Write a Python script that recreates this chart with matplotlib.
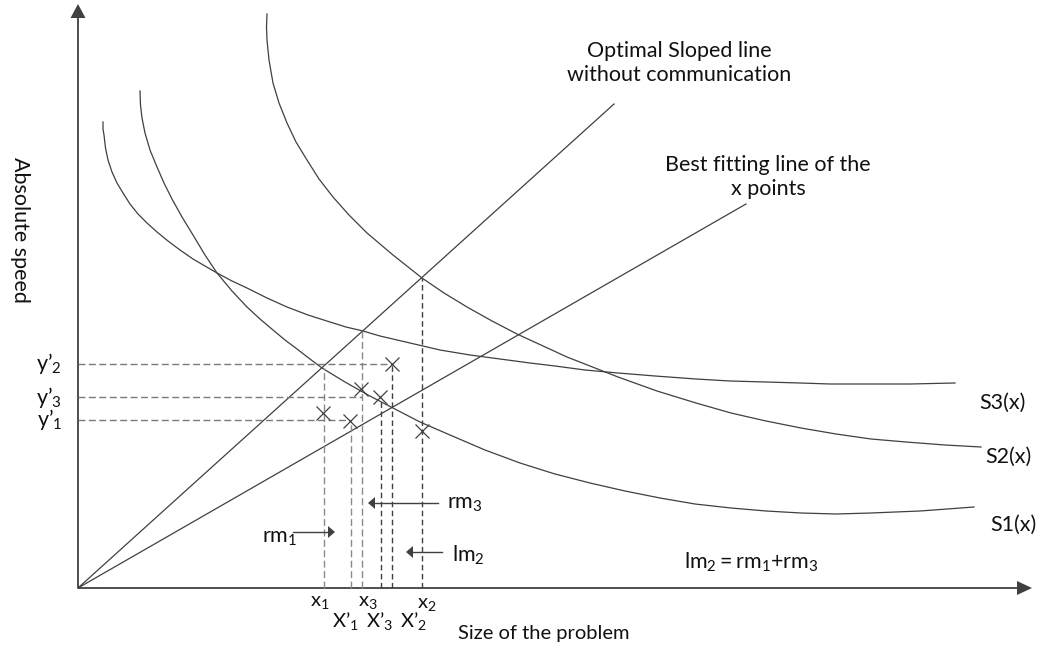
import matplotlib
matplotlib.use("Agg")
import matplotlib.pyplot as plt

plt.rcParams["font.family"] = ["Lato", "DejaVu Sans"]
plt.rcParams["mathtext.fontset"] = "custom"
plt.rcParams["mathtext.rm"] = "Lato"
plt.rcParams["mathtext.it"] = "Lato:italic"

# ---- speed curves, sampled as (problem size, absolute speed) ----
# origin of the diagram is (0, 0); units are screen-like steps
s1_x = [62, 62.5, 64, 67, 72, 79, 86, 94, 104, 115, 127, 139, 154, 169, 182, 195,
        207, 219, 232, 244, 267, 290, 313, 342, 372, 407, 442, 477, 512, 547, 582,
        617, 653, 688, 723, 758, 793, 842, 896]
s1_y = [497, 483, 470, 455, 438, 421, 405, 389, 371, 353, 333, 315, 297, 281, 269, 258,
        248, 239, 229, 220, 206, 193, 181, 166, 153, 138, 125, 114, 105, 97, 90,
        84, 80, 77, 75, 74, 75, 77, 81]

s2_x = [189, 188.5, 189, 191, 195, 201, 209, 218, 229, 241, 255, 271, 289, 315, 344,
        366, 389, 414, 439, 489, 540, 579, 618, 653, 688, 723, 758, 793, 828, 867, 903]
s2_y = [574, 561, 548, 528, 505, 485, 465, 446, 428, 409, 391, 373, 355, 333, 310,
        295, 281, 267, 254, 231, 211, 197, 185, 175, 167, 160, 154, 149, 146, 143, 141]

s3_x = [25, 25, 26, 27.5, 30, 34, 39, 45, 52, 60, 69, 79, 90, 102, 115, 127, 139,
        154, 169, 189, 209, 230, 252, 268, 285, 302, 332, 362, 392, 422, 452, 477,
        507, 540, 577, 618, 652, 688, 722, 752, 792, 832, 877]
s3_y = [466, 459, 453, 440, 428, 416, 405, 395, 384, 374, 365, 356, 347, 338, 329,
        322, 315, 307, 300, 290, 281, 273, 266, 261, 257, 252, 245, 238, 233, 229,
        225, 222, 218, 215, 212, 209, 207, 206, 205, 204, 204, 204, 205]

# ---- straight lines through the origin: end points ----
optimal_end = (536, 484)
bestfit_end = (668, 384)

# ---- measured points ----
cross_names = ["x1", "x'1", "x3", "x'3", "x'2", "x2"]
cross_x = [245, 272, 283, 302, 314, 344]
cross_y = [175, 167, 199, 191, 224, 157]

# vertical guides: x position and top
vguide_x = [246, 273, 284, 303, 314, 344]
vguide_top = [220, 167, 257, 190, 224, 310]
vguide_dark = [False, False, False, True, True, True]

# horizontal guides: level and right end
hguide_y = [224, 191, 168]
hguide_end = [314, 284, 272]
hguide_labels = ["y’_2", "y’_3", "y’_1"]

# labels under the size axis
xrow_labels = ["x_1", "x_3", "x_2"]
xrow_pos = [242, 290, 349]
xrow_base = [-18, -18, -20]
xprime_labels = ["X’_1", "X’_3", "X’_2"]
xprime_pos = [267, 302, 335]

LINE = "#404040"
TXT = "#111111"
FS = 15.5

fig = plt.figure(figsize=(10.44, 6.49), dpi=100)
ax = fig.add_axes([0, 0, 1, 1])
ax.set_xlim(-78, 966)
ax.set_ylim(-61, 588)
ax.axis("off")

# axes with arrow heads
ax.plot([0, 0], [0, 572], color=LINE, lw=1.3, solid_capstyle="butt")
ax.fill([-7.5, 7.5, 0], [570, 570, 584], color=LINE, lw=0)
ax.plot([0, 941], [0, 0], color=LINE, lw=1.3, solid_capstyle="butt")
ax.fill([939, 939, 954], [7, -7, 0], color=LINE, lw=0)

# curves
for xs, ys in ((s1_x, s1_y), (s2_x, s2_y), (s3_x, s3_y)):
    ax.plot(xs, ys, color=LINE, lw=0.9, solid_joinstyle="round")

# sloped lines
ax.plot([0, optimal_end[0]], [0, optimal_end[1]], color=LINE, lw=0.9)
ax.plot([0, bestfit_end[0]], [0, bestfit_end[1]], color=LINE, lw=0.9)

# dashed guides
for gx, top, dark in zip(vguide_x, vguide_top, vguide_dark):
    ax.plot([gx, gx], [0, top], color=("#404040" if dark else "#8a8a8a"),
            lw=1.0, dashes=(4, 2.5) if dark else (5, 2.5))
for gy, end in zip(hguide_y, hguide_end):
    ax.plot([0, end], [gy, gy], color="#7a7a7a", lw=1.0, dashes=(5, 2.5))

# measured points
ax.plot(cross_x, cross_y, linestyle="none", marker="x", markersize=10,
        markeredgewidth=0.9, color=LINE)

# y level labels
for gy, lab in zip(hguide_y, hguide_labels):
    ax.text(-16, gy, r"$\mathregular{" + lab + "}$", ha="right", va="center",
            fontsize=FS, color=TXT)

# x labels (two staggered rows)
for px, base, lab in zip(xrow_pos, xrow_base, xrow_labels):
    ax.text(px, base, r"$\mathregular{" + lab + "}$", ha="center", va="baseline",
            fontsize=14.5, color=TXT)
for px, lab in zip(xprime_pos, xprime_labels):
    ax.text(px, -39, r"$\mathregular{" + lab + "}$", ha="center", va="baseline",
            fontsize=14.5, color=TXT)

# curve names
ax.text(901, 185, "S3(x)", ha="left", va="center", fontsize=FS, color=TXT)
ax.text(907, 131, "S2(x)", ha="left", va="center", fontsize=FS, color=TXT)
ax.text(912, 63, "S1(x)", ha="left", va="center", fontsize=FS, color=TXT)

# line descriptions
ax.text(601, 525, "Optimal Sloped line\nwithout communication", ha="center", va="center",
        fontsize=FS, color=TXT, linespacing=1.3)
ax.text(690, 411, "Best fitting line of the\nx points", ha="center", va="center",
        fontsize=FS, color=TXT, linespacing=1.3)

# axis titles
ax.text(-58, 358, "Absolute speed", rotation=-90, ha="center", va="center",
        fontsize=15.5, color=TXT)
ax.text(466, -45, "Size of the problem", ha="center", va="center", fontsize=14.5, color=TXT)


def pointer(text, tx, ty, x0, x1, y, ha):
    ax.text(tx, ty, r"$\mathregular{" + text + "}$", ha=ha, va="center",
            fontsize=FS, color=TXT)
    direction = 1 if x1 > x0 else -1
    base = x1 - direction * 7
    ax.plot([x0, base], [y, y], color=LINE, lw=1.0)
    ax.fill([base, base, x1], [y + 6, y - 6, y], color=LINE, lw=0)


pointer("rm_1", 219, 50, 215, 257, 56, "right")
pointer("rm_3", 369, 84, 360, 290, 85, "left")
pointer("lm_2", 374, 33, 364, 328, 36, "left")

ax.text(606, 26, r"$\mathregular{lm_2=rm_1{+}rm_3}$", ha="left", va="center",
        fontsize=FS, color=TXT)

fig.savefig("out.png", dpi=100)
